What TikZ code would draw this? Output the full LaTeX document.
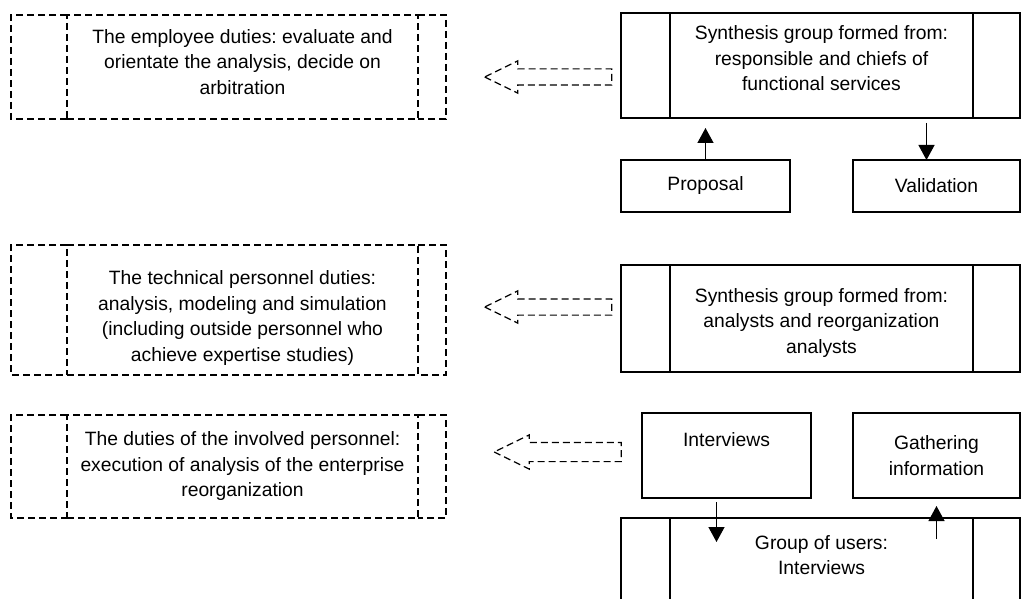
\documentclass[tikz,border=0pt]{standalone}
\usepackage{fontspec}
\setmainfont{Liberation Sans}
\usetikzlibrary{arrows.meta,shapes.arrows,calc}

\tikzset{
  midbox/.style={draw, line width=1.5pt, align=center, inner sep=0pt, outer sep=0pt, anchor=north west},
  dutybox/.style={draw, dash pattern=on 7pt off 4pt, line width=1.2pt, align=center, inner sep=0pt, outer sep=0pt, anchor=north west},
  sideline/.style={line width=1.5pt},
  dutyline/.style={dash pattern=on 7pt off 4pt, line width=1.2pt},
  blockarrow/.style={single arrow, draw, shape border rotate=180, dash pattern=on 7pt off 4pt, line width=1.2pt,
    minimum height=127pt, inner xsep=0pt, inner ysep=7.5pt, single arrow head extend=8pt, single arrow tip angle=52},
  arr/.style={-{Triangle[length=15pt,width=16pt]}, line width=1.3pt},
}
\frenchspacing

\begin{document}
\begin{tikzpicture}[x=1pt,y=-1pt,font=\fontsize{19.3}{25.5}\selectfont]
	\clip (0,0) rectangle (1021,599);
	% duties (left, dashed)
	\node[dutybox, minimum width=351pt, minimum height=104pt] (e1) at (67,15) {The employee duties: evaluate and\\orientate the analysis, decide on\\arbitration\\[-15.5pt]\mbox{}};
	\node[dutybox, minimum width=351pt, minimum height=130pt] (e2) at (67,245) {\mbox{}\\[4.5pt]The technical personnel duties:\\analysis, modeling and simulation\\(including outside personnel who\\achieve expertise studies)};
	\node[dutybox, minimum width=351pt, minimum height=103pt] (e3) at (67,415) {The duties of the involved personnel:\\execution of analysis of the enterprise\\reorganization};
	\foreach \n in {e1,e2,e3}{
		\draw[dutyline] (\n.north west) -- ++(-56,0) |- (\n.south west);
		\draw[dutyline] (\n.north east) -- ++(28,0) |- (\n.south east);
	}
	% groups (right)
	\node[midbox, minimum width=303pt, minimum height=105pt] (s1) at (670,13) {Synthesis group formed from:\\responsible and chiefs of\\functional services\\[-11.5pt]\mbox{}};
	\node[midbox, minimum width=303pt, minimum height=107pt] (s2) at (670,265) {\mbox{}\\[-3pt]Synthesis group formed from:\\analysts and reorganization\\analysts};
	\node[midbox, minimum width=303pt, minimum height=100pt] (grp) at (670,518) {Group of users:\\Interviews\\\mbox{}};
	\foreach \n in {s1,s2,grp}{
		\draw[sideline] (\n.north west) -- ++(-49,0) |- (\n.south west);
		\draw[sideline] (\n.north east) -- ++(47,0) |- (\n.south east);
	}
	\node[midbox, minimum width=169pt, minimum height=52pt] (p) at (621,160) {Proposal};
	\node[midbox, minimum width=167pt, minimum height=52pt] (v) at (853,160) {Validation};
	\node[midbox, minimum width=169pt, minimum height=85pt] (i) at (642,413) {Interviews\\[6pt]\mbox{}};
	\node[midbox, minimum width=167pt, minimum height=85pt] (g) at (853,413) {Gathering\\information};
	% dashed block arrows
	\node[blockarrow] (a1) at (556.5,77) {};
	\node[blockarrow] (a2) at (556.5,307) {};
	\node[blockarrow, inner ysep=9pt, single arrow head extend=7.5pt] (a3) at (567.5,452) {};
	% arrows
	\draw[arr, shorten >=10pt] (p.north) -- (p.north |- s1.south);
	\coordinate (vtop) at ([xshift=-10pt]v.north);
	\draw[arr, shorten <=5pt] (vtop |- s1.south) -- (vtop);
	\coordinate (idown) at ([xshift=-10pt]i.south);
	\coordinate (itip) at ($(idown |- grp.north)+(0,24)$);
	\draw[arr, shorten <=4pt] (idown) -- (itip);
	\coordinate (gup) at ($(g.south |- grp.north)+(0,21)$);
	\draw[arr, shorten >=8pt] (gup) -- (g.south);
\end{tikzpicture}
\end{document}
